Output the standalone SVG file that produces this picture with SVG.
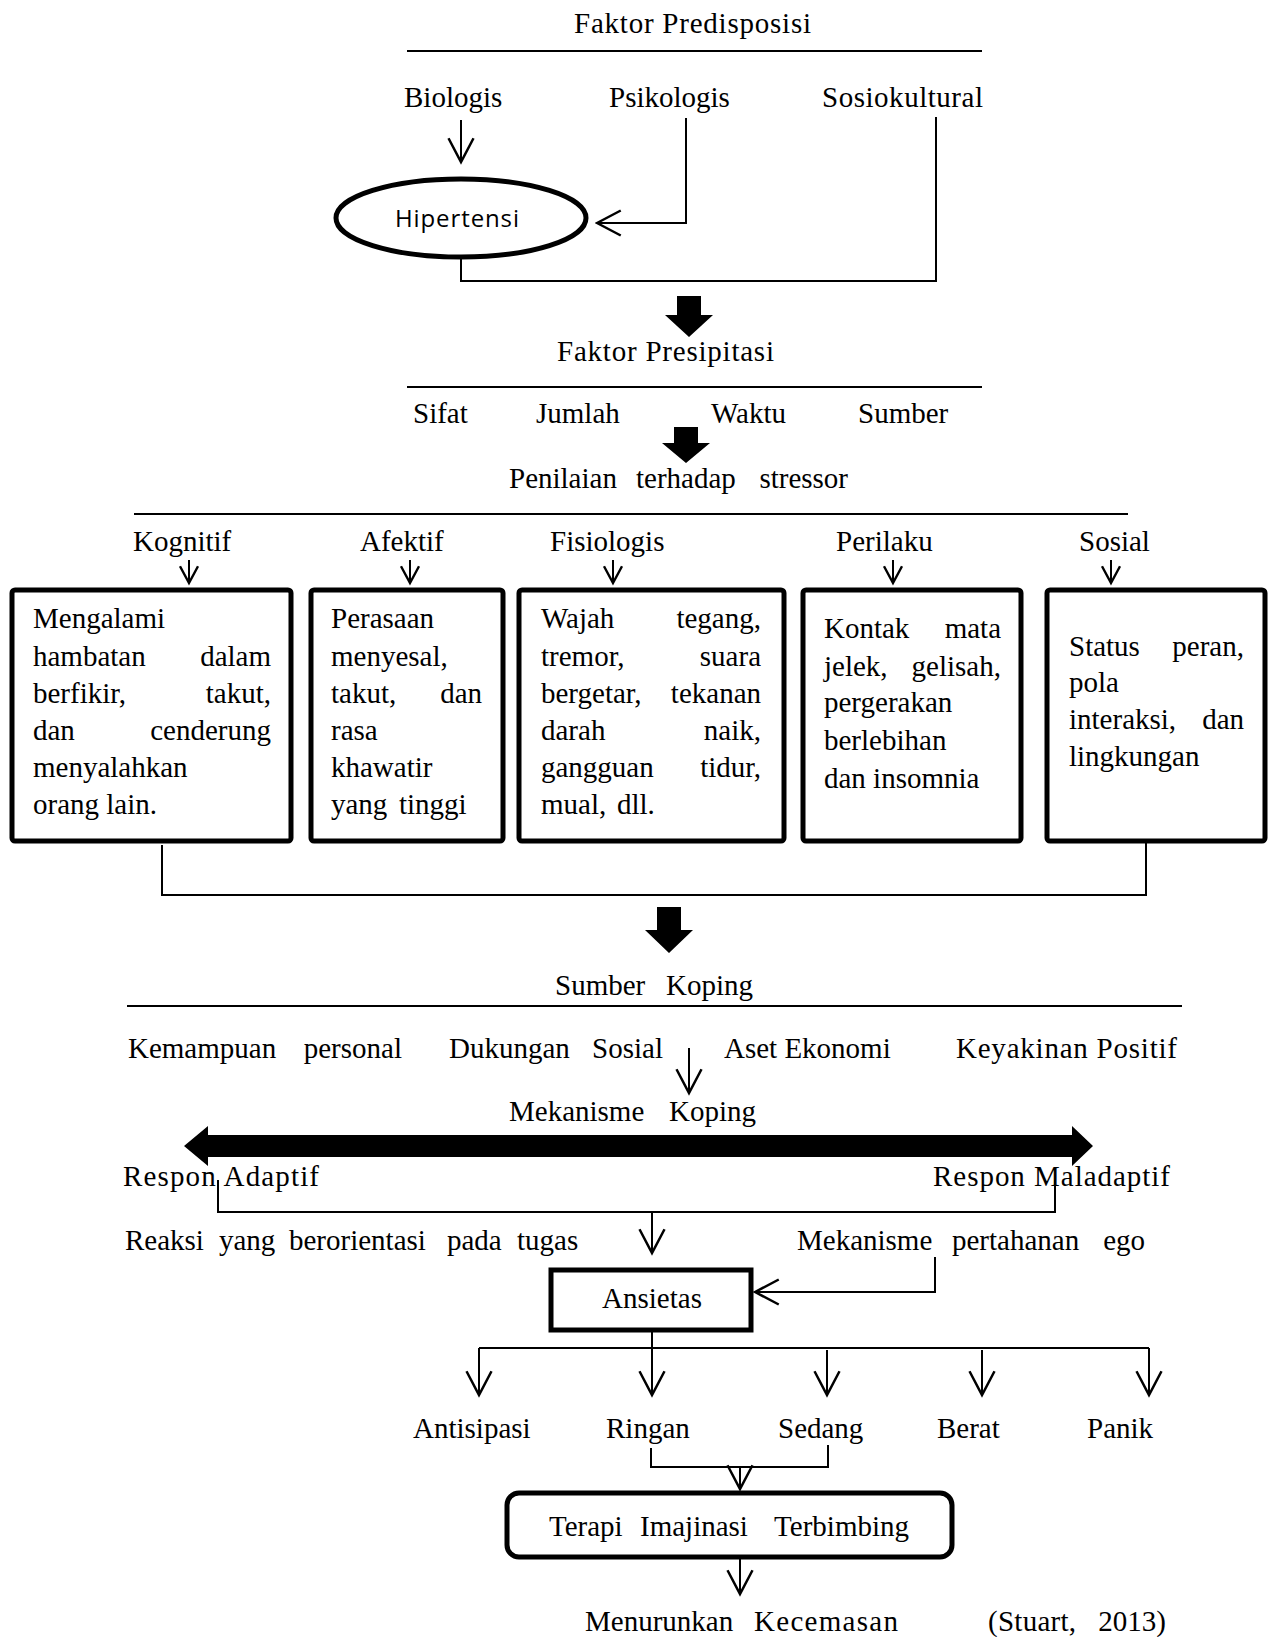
<svg xmlns="http://www.w3.org/2000/svg" width="1271" height="1637" viewBox="0 0 1271 1637">
<defs>
<style>
text{font-family:"Liberation Serif","Times New Roman",serif;font-size:29px;fill:#000}
.e{text-anchor:end}
.m{text-anchor:middle}
.sans{font-family:"Open Sans","Liberation Sans",sans-serif;font-size:24px}
.ln{fill:none;stroke:#000;stroke-width:2}
.box{fill:#fff;stroke:#000;stroke-width:5}
.blk{fill:#000}
</style>
<marker id="ah" markerUnits="userSpaceOnUse" markerWidth="30" markerHeight="30" viewBox="-22 -12 24 24" refX="0" refY="0" orient="auto">
<path d="M-19,-10 L0,0 L-19,10" fill="none" stroke="#000" stroke-width="2"/>
</marker>
<marker id="as" markerUnits="userSpaceOnUse" markerWidth="24" markerHeight="24" viewBox="-16 -10 18 20" refX="0" refY="0" orient="auto">
<path d="M-14,-7.5 L0,0 L-14,7.5" fill="none" stroke="#000" stroke-width="2"/>
</marker>
</defs>
<rect width="1271" height="1637" fill="#fff"/>

<g id="connectors">
<path class="ln" d="M407,51 H982"/>
<path class="ln" d="M407,387 H982"/>
<path class="ln" d="M134,514 H1128"/>
<path class="ln" d="M127,1006 H1182"/>
<path class="ln" d="M461,120 V162" marker-end="url(#ah)"/>
<path class="ln" d="M686,118 V223 H597" marker-end="url(#ah)"/>
<path class="ln" d="M936,117 V281 H461 V259"/>
<polygon class="blk" points="677,296 701,296 701,315 713,315 689,337 665,315 677,315"/>
<polygon class="blk" points="674,427 698,427 698,443 710,443 686,463 662,443 674,443"/>
<path class="ln" d="M189,560 V583" marker-end="url(#as)"/>
<path class="ln" d="M410,560 V583" marker-end="url(#as)"/>
<path class="ln" d="M613,560 V583" marker-end="url(#as)"/>
<path class="ln" d="M893,560 V583" marker-end="url(#as)"/>
<path class="ln" d="M1111,560 V583" marker-end="url(#as)"/>
<path class="ln" d="M162,845 V895 H1146 V843"/>
<polygon class="blk" points="657,907 681,907 681,930 693,930 669,953 645,930 657,930"/>
<path class="ln" d="M689,1048 V1093" marker-end="url(#ah)"/>
<polygon class="blk" points="184,1146 208,1126 208,1135 1072,1135 1072,1126 1093,1146 1072,1166 1072,1157 208,1157 208,1166"/>
<path class="ln" d="M218,1180 V1212 H1055 V1180"/>
<path class="ln" d="M652,1212 V1253" marker-end="url(#ah)"/>
<path class="ln" d="M935,1257 V1292 H755" marker-end="url(#ah)"/>
<path class="ln" d="M652,1332 V1395" marker-end="url(#ah)"/>
<path class="ln" d="M479,1348 H1149"/>
<path class="ln" d="M479,1348 V1395" marker-end="url(#ah)"/>
<path class="ln" d="M827,1350 V1395" marker-end="url(#ah)"/>
<path class="ln" d="M982,1350 V1395" marker-end="url(#ah)"/>
<path class="ln" d="M1149,1348 V1395" marker-end="url(#ah)"/>
<path class="ln" d="M651,1448 V1467 H828 V1445"/>
<path class="ln" d="M740,1467 V1489" marker-end="url(#ah)"/>
<path class="ln" d="M740,1559 V1594" marker-end="url(#ah)"/>
</g>

<g id="faktor-predisposisi">
<text x="574" y="33" textLength="237" lengthAdjust="spacing">Faktor Predisposisi</text>
</g>
<g id="biologis"><text x="404" y="107">Biologis</text></g>
<g id="psikologis"><text x="609" y="107">Psikologis</text></g>
<g id="sosiokultural"><text x="822" y="107" textLength="161" lengthAdjust="spacing">Sosiokultural</text></g>
<g id="hipertensi">
<ellipse class="box" cx="461" cy="218" rx="125" ry="39"/>
<text class="sans" x="395" y="227" textLength="124" lengthAdjust="spacing">Hipertensi</text>
</g>
<g id="faktor-presipitasi">
<text x="557" y="361" textLength="217" lengthAdjust="spacing">Faktor Presipitasi</text>
<text x="413" y="423">Sifat</text>
<text x="536" y="423">Jumlah</text>
<text x="711" y="423">Waktu</text>
<text x="858" y="423">Sumber</text>
</g>
<g id="penilaian">
<text x="509" y="488">Penilaian</text><text x="636" y="488">terhadap</text><text class="e" x="848" y="488">stressor</text>
</g>
<g id="kategori">
<text x="133" y="551">Kognitif</text>
<text x="360" y="551">Afektif</text>
<text x="550" y="551">Fisiologis</text>
<text x="836" y="551">Perilaku</text>
<text x="1079" y="551">Sosial</text>
</g>
<g id="kognitif">
<rect class="box" x="12" y="590" width="279" height="251" rx="3"/>
<text x="33" y="628">Mengalami</text>
<text x="33" y="666">hambatan</text><text class="e" x="271" y="666">dalam</text>
<text x="33" y="703">berfikir,</text><text class="e" x="271" y="703">takut,</text>
<text x="33" y="740">dan</text><text class="e" x="271" y="740">cenderung</text>
<text x="33" y="777">menyalahkan</text>
<text x="33" y="814">orang lain.</text>
</g>
<g id="afektif">
<rect class="box" x="311" y="590" width="192" height="251" rx="3"/>
<text x="331" y="628">Perasaan</text>
<text x="331" y="666">menyesal,</text>
<text x="331" y="703">takut,</text><text class="e" x="482" y="703">dan</text>
<text x="331" y="740">rasa</text>
<text x="331" y="777">khawatir</text>
<text x="331" y="814">yang</text><text x="399" y="814">tinggi</text>
</g>
<g id="fisiologis">
<rect class="box" x="519" y="590" width="265" height="251" rx="3"/>
<text x="541" y="628">Wajah</text><text class="e" x="761" y="628">tegang,</text>
<text x="541" y="666">tremor,</text><text class="e" x="761" y="666">suara</text>
<text x="541" y="703">bergetar,</text><text class="e" x="761" y="703">tekanan</text>
<text x="541" y="740">darah</text><text class="e" x="761" y="740">naik,</text>
<text x="541" y="777">gangguan</text><text class="e" x="761" y="777">tidur,</text>
<text x="541" y="814">mual,</text><text x="617" y="814">dll.</text>
</g>
<g id="perilaku">
<rect class="box" x="803" y="590" width="218" height="251" rx="3"/>
<text x="824" y="638">Kontak</text><text class="e" x="1001" y="638">mata</text>
<text x="824" y="676">jelek,</text><text class="e" x="1001" y="676">gelisah,</text>
<text x="824" y="712">pergerakan</text>
<text x="824" y="750">berlebihan</text>
<text x="824" y="788">dan insomnia</text>
</g>
<g id="sosial">
<rect class="box" x="1047" y="590" width="218" height="251" rx="3"/>
<text x="1069" y="656">Status</text><text class="e" x="1244" y="656">peran,</text>
<text x="1069" y="692">pola</text>
<text x="1069" y="729">interaksi,</text><text class="e" x="1244" y="729">dan</text>
<text x="1069" y="766">lingkungan</text>
</g>
<g id="sumber-koping">
<text x="555" y="995">Sumber</text><text class="e" x="753" y="995">Koping</text>
<text x="128" y="1058">Kemampuan</text><text class="e" x="402" y="1058">personal</text>
<text x="449" y="1058">Dukungan</text><text class="e" x="663" y="1058">Sosial</text>
<text x="724" y="1058">Aset Ekonomi</text>
<text x="956" y="1058" textLength="221" lengthAdjust="spacing">Keyakinan Positif</text>
</g>
<g id="mekanisme-koping">
<text x="509" y="1121">Mekanisme</text><text class="e" x="756" y="1121">Koping</text>
</g>
<g id="respon">
<text x="123" y="1186" textLength="196" lengthAdjust="spacing">Respon Adaptif</text>
<text x="933" y="1186" textLength="237" lengthAdjust="spacing">Respon Maladaptif</text>
</g>
<g id="reaksi">
<text x="125" y="1250">Reaksi</text><text x="219" y="1250">yang</text><text x="289" y="1250">berorientasi</text><text x="447" y="1250">pada</text><text x="517" y="1250">tugas</text>
</g>
<g id="mekanisme-ego">
<text x="797" y="1250">Mekanisme</text><text x="952" y="1250">pertahanan</text><text class="e" x="1145" y="1250">ego</text>
</g>
<g id="ansietas">
<rect class="box" x="551" y="1270" width="200" height="60"/>
<text class="m" x="652" y="1308">Ansietas</text>
</g>
<g id="tingkat">
<text x="413" y="1438">Antisipasi</text>
<text x="606" y="1438">Ringan</text>
<text x="778" y="1438">Sedang</text>
<text x="937" y="1438">Berat</text>
<text x="1087" y="1438">Panik</text>
</g>
<g id="terapi">
<rect class="box" x="507" y="1493" width="445" height="64" rx="12"/>
<text x="549" y="1536">Terapi</text><text x="640" y="1536">Imajinasi</text><text class="e" x="909" y="1536">Terbimbing</text>
</g>
<g id="hasil">
<text x="585" y="1631">Menurunkan</text><text x="754" y="1631" textLength="144" lengthAdjust="spacing">Kecemasan</text>
<text x="988" y="1631" textLength="88" lengthAdjust="spacing">(Stuart,</text><text class="e" x="1166" y="1631">2013)</text>
</g>
</svg>
